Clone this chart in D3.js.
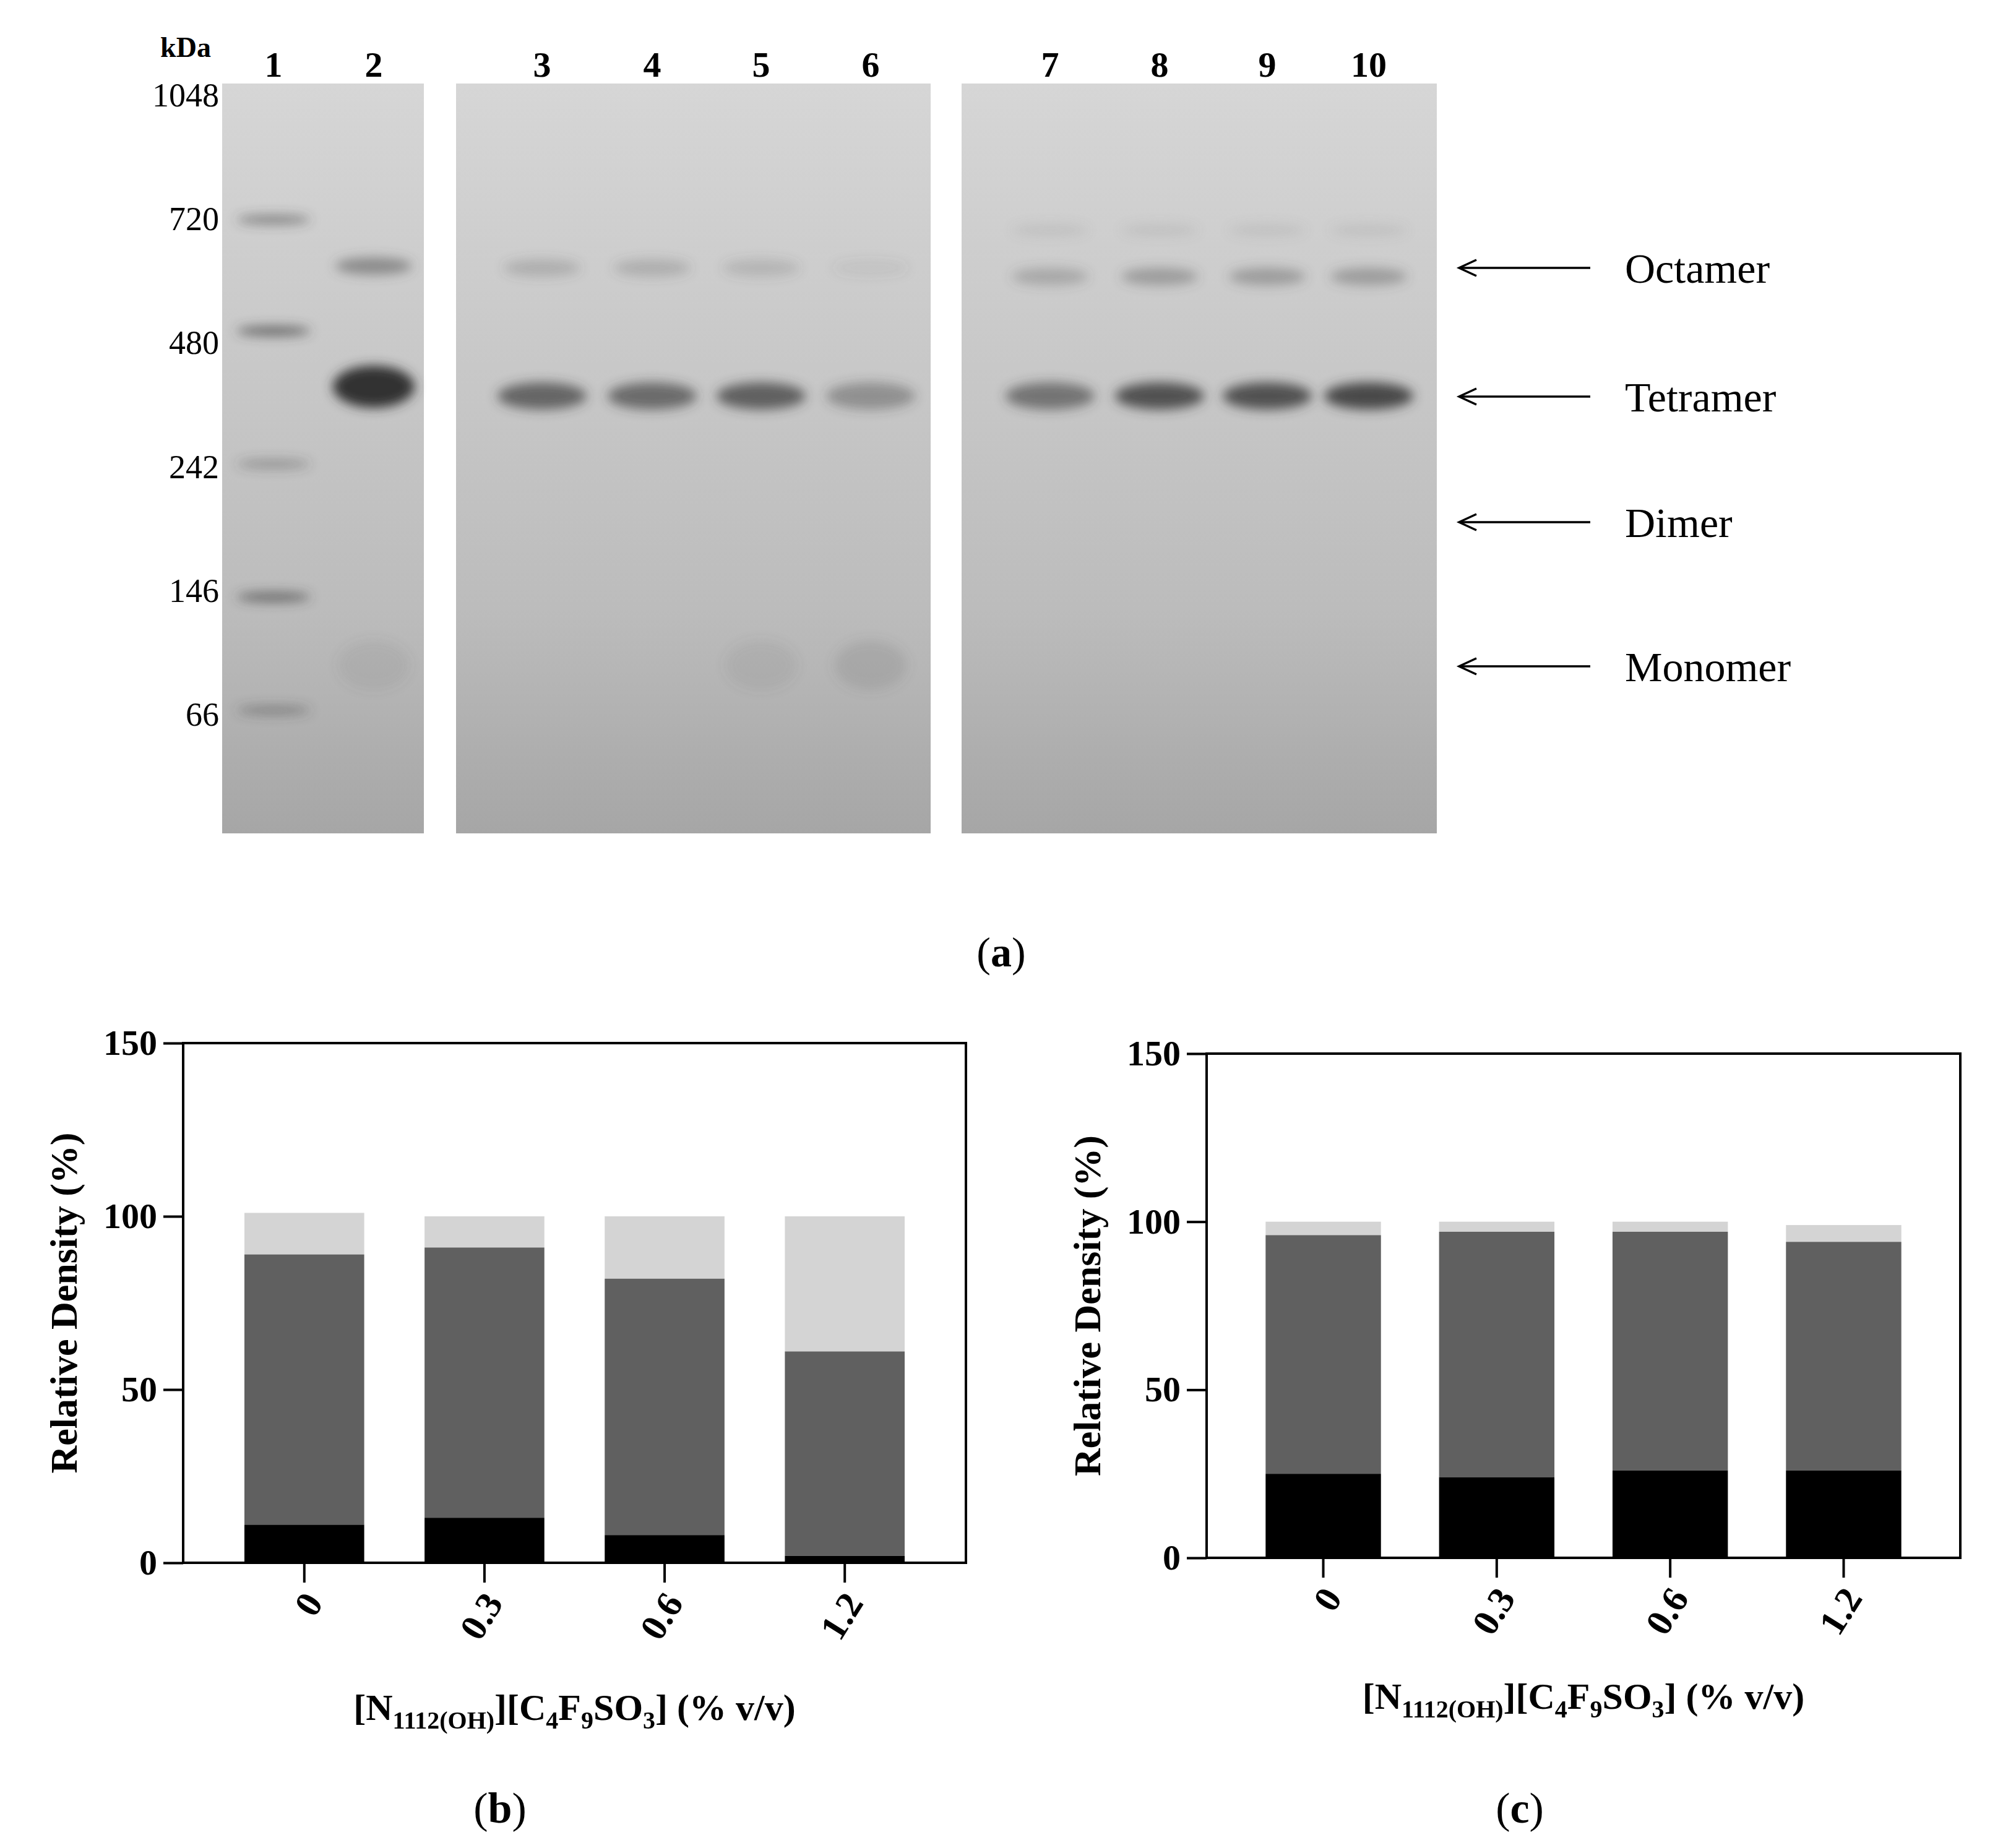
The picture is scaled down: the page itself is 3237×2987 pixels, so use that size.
<!DOCTYPE html>
<html><head><meta charset="utf-8">
<script src="https://cdn.jsdelivr.net/npm/d3@7"></script>
<style>body{margin:0;background:#fff}svg{display:block}</style></head>
<body><svg id="c" width="3237" height="2987"></svg>
<script>
const categories=["0","0.3","0.6","1.2"];
const bMonomer=[11,13,8,2], bTetramerTop=[89,91,82,61], bTotal=[101,100,100,100];
const cMonomer=[25,24,26,26], cTetramerTop=[96,97,97,94], cTotal=[100,100,100,99];
const yTicks=[0,50,100,150];
const laneLabels=["1","2","3","4","5","6","7","8","9","10"];
const markerKDa=["1048","720","480","242","146","66"];
const markerPos=[0,1,2,3,4,5];
const bandNames=["Octamer","Tetramer","Dimer","Monomer"];
const octI=[0,0.55,0.25,0.25,0.2,0.08,0.3,0.4,0.4,0.4];
const tetI=[0,1,0.7,0.65,0.75,0.4,0.6,0.85,0.85,0.9];
const monI=[0,0.1,0,0,0.1,0.18,0,0,0,0];

const svg=d3.select("#c");
const F="'Liberation Serif','Times New Roman',serif";
const defs=svg.append("defs");
const bl=defs.append("filter").attr("id","blur").attr("x","-50%").attr("y","-50%").attr("width","200%").attr("height","200%");
bl.append("feGaussianBlur").attr("stdDeviation",9);
const g1=defs.append("linearGradient").attr("id","gel").attr("x1",0).attr("y1",0).attr("x2",0).attr("y2",1);
g1.append("stop").attr("offset",0).attr("stop-color","#d6d6d6");
g1.append("stop").attr("offset",0.7).attr("stop-color","#bcbcbc");
g1.append("stop").attr("offset",1).attr("stop-color","#a6a6a6");

const gels=[[359,685],[737,1504],[1554,2322]];
gels.forEach(([a,b])=>svg.append("rect").attr("x",a).attr("y",135).attr("width",b-a).attr("height",1212).attr("fill","url(#gel)"));
const laneX=[442,604,876,1054,1230,1407,1697,1874,2048,2212];
const yM=d3.scaleLinear().domain([0,5]).range([152,1153]);
const yOct=433, yTet=641, yDim=844, yMon=1077;
svg.append("g").selectAll("text").data(laneLabels).join("text").attr("x",(d,i)=>laneX[i]).attr("y",124)
 .attr("text-anchor","middle").attr("font-family",F).attr("font-weight","bold").attr("font-size",58).text(d=>d);
svg.append("text").attr("x",300).attr("y",92).attr("text-anchor","middle").attr("font-family",F).attr("font-weight","bold").attr("font-size",46).text("kDa");
svg.append("g").selectAll("text").data(markerKDa).join("text").attr("x",354).attr("y",(d,i)=>yM(markerPos[i])+20)
 .attr("text-anchor","end").attr("font-family",F).attr("font-size",54).text(d=>d);
const bands=svg.append("g").attr("filter","url(#blur)");
const mkY=[355,535,750,965,1148], mkO=[0.5,0.7,0.35,0.65,0.4];
mkY.forEach((y,i)=>bands.append("ellipse").attr("cx",laneX[0]).attr("cy",y).attr("rx",60).attr("ry",8).attr("fill","#444").attr("opacity",mkO[i]));
laneX.forEach((x,i)=>{
 if(i===0)return;
 if(octI[i]>0)bands.append("ellipse").attr("cx",x).attr("cy",i===1?430:(i>5?447:433)).attr("rx",62).attr("ry",14).attr("fill","#555").attr("opacity",octI[i]);
 if(i>5)bands.append("ellipse").attr("cx",x).attr("cy",372).attr("rx",62).attr("ry",10).attr("fill","#777").attr("opacity",0.15);
 const big=i===1;
 bands.append("ellipse").attr("cx",x).attr("cy",big?625:640).attr("rx",big?66:72).attr("ry",big?34:22).attr("fill",big?"#333":"#3c3c3c").attr("opacity",tetI[i]);
 if(monI[i]>0)bands.append("ellipse").attr("cx",x).attr("cy",1075).attr("rx",58).attr("ry",40).attr("fill","#666").attr("opacity",monI[i]);
});
const arrowY=[yOct,yTet,yDim,yMon];
arrowY.forEach((y,i)=>{
 svg.append("line").attr("x1",2570).attr("x2",2358).attr("y1",y).attr("y2",y).attr("stroke","#000").attr("stroke-width",3.5);
 svg.append("path").attr("d",`M2386,${y-13} L2358,${y} L2386,${y+13}`).attr("fill","none").attr("stroke","#000").attr("stroke-width",3.5);
 svg.append("text").attr("x",2626).attr("y",y+24).attr("font-family",F).attr("font-size",68).text(bandNames[i]);
});
svg.append("text").attr("x",1618).attr("y",1562).attr("text-anchor","middle").attr("font-family",F).attr("font-size",68).html("(<tspan font-weight='bold'>a</tspan>)");

function chart(L,R,T,B,mon,tet,tot,label,titleY,labelX){
 const x=d3.scaleBand().domain(categories).range([L,R]).paddingInner(0.335).paddingOuter(0.34);
 const y=d3.scaleLinear().domain([0,150]).range([B,T]);
 const g=svg.append("g");
 categories.forEach((c,i)=>{
  g.append("rect").attr("x",x(c)).attr("width",x.bandwidth()).attr("y",y(tot[i])).attr("height",y(tet[i])-y(tot[i])).attr("fill","#d4d4d4");
  g.append("rect").attr("x",x(c)).attr("width",x.bandwidth()).attr("y",y(tet[i])).attr("height",y(mon[i])-y(tet[i])).attr("fill","#606060");
  g.append("rect").attr("x",x(c)).attr("width",x.bandwidth()).attr("y",y(mon[i])).attr("height",B-y(mon[i])).attr("fill","#000");
 });
 g.append("rect").attr("x",L).attr("y",T).attr("width",R-L).attr("height",B-T).attr("fill","none").attr("stroke","#000").attr("stroke-width",4);
 const ya=g.append("g").attr("transform",`translate(${L},0)`).call(d3.axisLeft(y).tickValues(yTicks).tickSize(32).tickPadding(10));
 ya.select(".domain").remove();
 ya.selectAll("line").attr("stroke-width",4);
 ya.selectAll("text").attr("font-family",F).attr("font-weight","bold").attr("font-size",58);
 const xa=g.append("g").attr("transform",`translate(0,${B})`).call(d3.axisBottom(x).tickSize(32).tickPadding(10));
 xa.select(".domain").remove();
 xa.selectAll("line").attr("stroke-width",4);
 xa.selectAll("text").attr("font-family",F).attr("font-weight","bold").attr("font-size",60)
   .attr("text-anchor","end").attr("transform","translate(14,54) rotate(-58)").attr("dy","0.35em").attr("y",0);
 g.append("text").attr("transform",`translate(${L-172},${(T+B)/2}) rotate(-90)`).attr("text-anchor","middle")
  .attr("font-family",F).attr("font-weight","bold").attr("font-size",62).text("Relative Density (%)");
 g.append("text").attr("x",(L+R)/2).attr("y",titleY).attr("text-anchor","middle").attr("font-family",F).attr("font-weight","bold").attr("font-size",60)
  .html("[N<tspan font-size='40' dy='14'>1112(OH)</tspan><tspan dy='-14'>][C</tspan><tspan font-size='40' dy='14'>4</tspan><tspan dy='-14'>F</tspan><tspan font-size='40' dy='14'>9</tspan><tspan dy='-14'>SO</tspan><tspan font-size='40' dy='14'>3</tspan><tspan dy='-14'>] (% v/v)</tspan>");
 svg.append("text").attr("x",labelX).attr("y",2946).attr("text-anchor","middle").attr("font-family",F).attr("font-size",70).html(`(<tspan font-weight='bold'>${label}</tspan>)`);
}
chart(296,1561,1686,2526,bMonomer,bTetramerTop,bTotal,"b",2780,808);
chart(1950,3168,1703,2518,cMonomer,cTetramerTop,cTotal,"c",2762,2456);
</script></body></html>
